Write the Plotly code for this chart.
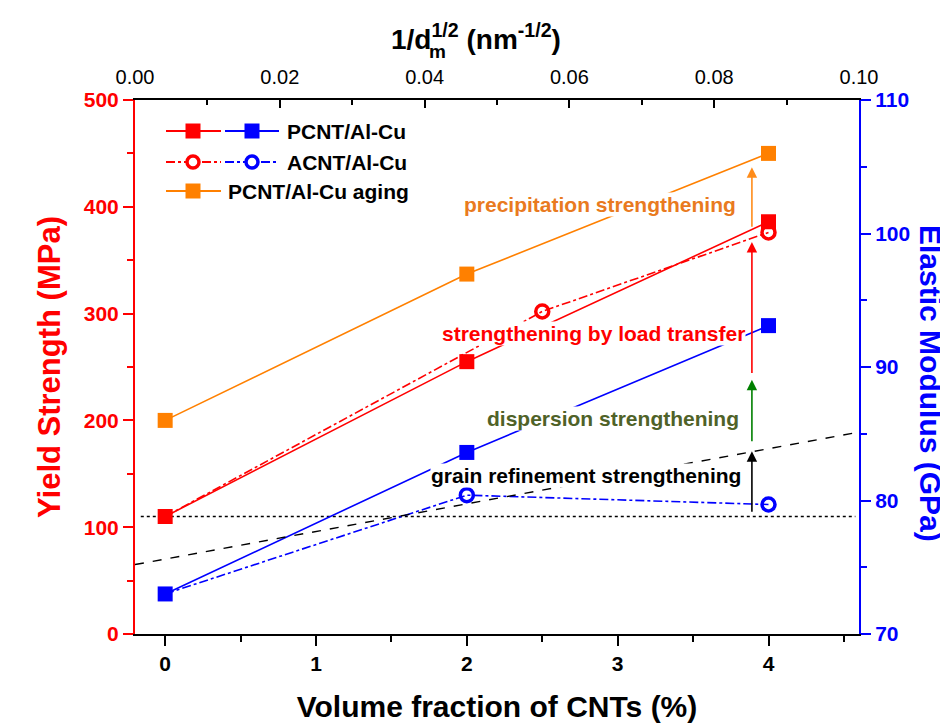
import plotly.graph_objects as go

# ---------------- data ----------------
vf_pcnt = [0, 2, 4]
ys_pcnt = [110, 255, 386]
em_pcnt = [73.0, 83.6, 93.1]

vf_acnt_ys = [0, 2.5, 4]
ys_acnt = [110, 302, 376]
vf_acnt_em = [0, 2, 4]
em_acnt = [73.0, 80.4, 79.7]

vf_aging = [0, 2, 4]
ys_aging = [200, 337, 450]

# Hall-Petch (grain refinement) line vs 1/d_m^1/2 (top axis)
hp_x = [0.0, 0.1]
hp_y = [65, 189]
base_ys = 110  # dotted reference line

# contribution arrows at x = 3.89
arrow_x = 3.89
arrow_from = [113, 179, 243, 380]
arrow_to = [171, 238, 367, 437]
arrow_colors = ["black", "#008000", "#FF0000", "#FF8C1A"]

labels = ["precipitation strengthening", "strengthening by load transfer",
          "dispersion strengthening", "grain refinement strengthening"]
label_x = [3.79, 2.84, 2.97, 2.79]
label_y = [402, 281, 202, 148]
label_anchor = ["right", "center", "center", "center"]
label_colors = ["#E97A20", "#FF0000", "#4F6228", "black"]

RED = "#FF0000"
BLUE = "#0000FF"
ORANGE = "#FF8000"
FONT = "Liberation Sans, Arial, sans-serif"

fig = go.Figure()

# ACNT (drawn first)
fig.add_trace(go.Scatter(x=vf_acnt_ys, y=ys_acnt, mode="lines", yaxis="y",
                         line=dict(color=RED, width=1.6, dash="dashdot"), showlegend=False))
fig.add_trace(go.Scatter(x=vf_acnt_em, y=em_acnt, mode="lines", yaxis="y2",
                         line=dict(color=BLUE, width=1.6, dash="dashdot"), showlegend=False))
# Hall-Petch dashed line on top axis
fig.add_trace(go.Scatter(x=hp_x, y=hp_y, mode="lines", xaxis="x2", yaxis="y",
                         line=dict(color="black", width=1.4, dash="dash"), showlegend=False))
# PCNT
fig.add_trace(go.Scatter(x=vf_aging, y=ys_aging, mode="lines+markers", yaxis="y",
                         line=dict(color=ORANGE, width=1.6),
                         marker=dict(symbol="square", size=15, color=ORANGE), showlegend=False))
fig.add_trace(go.Scatter(x=vf_pcnt, y=ys_pcnt, mode="lines+markers", yaxis="y",
                         line=dict(color=RED, width=1.6),
                         marker=dict(symbol="square", size=15, color=RED), showlegend=False))
fig.add_trace(go.Scatter(x=vf_pcnt, y=em_pcnt, mode="lines+markers", yaxis="y2",
                         line=dict(color=BLUE, width=1.6),
                         marker=dict(symbol="square", size=15, color=BLUE), showlegend=False))
# ACNT markers (no marker at 0, hidden under squares)
fig.add_trace(go.Scatter(x=vf_acnt_ys[1:], y=ys_acnt[1:], mode="markers", yaxis="y",
                         marker=dict(symbol="circle-open", size=13, color=RED, line=dict(width=3.5)),
                         showlegend=False))
fig.add_trace(go.Scatter(x=vf_acnt_em[1:], y=em_acnt[1:], mode="markers", yaxis="y2",
                         marker=dict(symbol="circle-open", size=13, color=BLUE, line=dict(width=3.5)),
                         showlegend=False))

shapes = [dict(type="line", xref="x domain", yref="y", x0=0.008, x1=0.995, y0=base_ys, y1=base_ys,
               line=dict(color="black", width=1.5, dash="dot"), layer="below")]

# ---- custom legend (pixel offsets from plot top-left) ----
def seg(x0, x1, yoff, color, dash):
    return dict(type="line", xref="paper", yref="paper", xanchor=0, yanchor=1,
                xsizemode="pixel", ysizemode="pixel", x0=x0, x1=x1, y0=yoff, y1=yoff,
                line=dict(color=color, width=1.8, dash=dash))

def sq(cx, yoff, color):
    return dict(type="rect", xref="paper", yref="paper", xanchor=0, yanchor=1,
                xsizemode="pixel", ysizemode="pixel", x0=cx - 7.5, x1=cx + 7.5,
                y0=yoff - 7.5, y1=yoff + 7.5, fillcolor=color, line=dict(width=0))

def circ(cx, yoff, color):
    return dict(type="circle", xref="paper", yref="paper", xanchor=0, yanchor=1,
                xsizemode="pixel", ysizemode="pixel", x0=cx - 6, x1=cx + 6,
                y0=yoff - 6, y1=yoff + 6, fillcolor="white", line=dict(color=color, width=3.5))

shapes += [seg(31, 86, -31, RED, "solid"), sq(58, -31, RED),
           seg(90, 144, -31, BLUE, "solid"), sq(117, -31, BLUE),
           seg(31, 86, -62, RED, "dashdot"), circ(58, -62, RED),
           seg(90, 144, -62, BLUE, "dashdot"), circ(117, -62, BLUE),
           seg(31, 86, -91, ORANGE, "solid"), sq(58, -91, ORANGE)]

annotations = []
for t, xs, ys in [("PCNT/Al-Cu", 150, -31), ("ACNT/Al-Cu", 150, -62), ("PCNT/Al-Cu aging", 91, -91)]:
    annotations.append(dict(text=t, xref="paper", yref="paper", x=0, y=1, xshift=xs, yshift=ys,
                            xanchor="left", yanchor="middle", showarrow=False,
                            font=dict(family=FONT, size=21, color="black", weight="bold")))

for t, x, y, a, c in zip(labels, label_x, label_y, label_anchor, label_colors):
    annotations.append(dict(text=t, x=x, y=y, xref="x", yref="y", xanchor=a, yanchor="middle",
                            showarrow=False, bgcolor="white", borderpad=0,
                            font=dict(family=FONT, size=21, color=c, weight="bold")))

for f, tt, c in zip(arrow_from, arrow_to, arrow_colors):
    annotations.append(dict(text="", x=arrow_x, y=tt, ax=arrow_x, ay=f, xref="x", yref="y",
                            axref="x", ayref="y", showarrow=True, arrowhead=2, arrowsize=1.3,
                            arrowwidth=1.6, arrowcolor=c))

# top axis title: 1/d_m^(1/2) (nm^-1/2), with the "m" stacked under the superscript
annotations.append(dict(text="1/d<sup>1/2</sup> (nm<sup>-1/2</sup>)", xref="paper", yref="paper",
                        x=0.471, y=1, yshift=63, xanchor="center", yanchor="middle", showarrow=False,
                        font=dict(family=FONT, size=28, color="black", weight="bold")))
annotations.append(dict(text="m", xref="paper", yref="paper",
                        x=0.4185, y=1, yshift=49, xanchor="center", yanchor="middle", showarrow=False,
                        font=dict(family=FONT, size=19, color="black", weight="bold")))

# right axis title (reads top-to-bottom)
annotations.append(dict(text="Elastic Modulus (GPa)", xref="paper", yref="paper", x=1, y=0.47,
                        xshift=72, textangle=90, showarrow=False, xanchor="center", yanchor="middle",
                        font=dict(family=FONT, size=30, color=BLUE, weight="bold")))

tickfont_b = dict(family=FONT, size=21, weight="bold")

fig.update_layout(
    width=948, height=727,
    margin=dict(l=127, r=97, t=92, b=101),
    paper_bgcolor="white", plot_bgcolor="white",
    showlegend=False,
    xaxis=dict(range=[-0.2, 4.6], tickvals=[0, 1, 2, 3, 4], ticks="outside", ticklen=10, tickwidth=2,
               tickcolor="black", showline=True, linecolor="black", linewidth=2, showgrid=False,
               zeroline=False, tickfont=dict(color="black", **tickfont_b),
               minor=dict(dtick=0.5, tick0=0, ticks="outside", ticklen=6, tickwidth=2, tickcolor="black"),
               title=dict(text="Volume fraction of CNTs (%)", standoff=22,
                          font=dict(family=FONT, size=30, color="black", weight="bold"))),
    xaxis2=dict(range=[0, 0.1], overlaying="x", side="top", anchor="y", dtick=0.02, tick0=0,
                tickformat=".2f", ticks="inside", ticklen=8, tickwidth=2, tickcolor="black",
                showline=True, linecolor="black", linewidth=2, showgrid=False, zeroline=False,
                ticklabelstandoff=6,
                tickfont=dict(family=FONT, size=20, color="black"),
                minor=dict(dtick=0.01, ticks="inside", ticklen=5, tickwidth=2, tickcolor="black")),
    yaxis=dict(range=[0, 500], dtick=100, ticks="outside", ticklen=10, tickwidth=2, tickcolor=RED,
               showline=True, linecolor=RED, linewidth=2, showgrid=False, zeroline=False,
               tickfont=dict(color=RED, **tickfont_b),
               minor=dict(dtick=50, ticks="outside", ticklen=6, tickwidth=2, tickcolor=RED),
               title=dict(text="Yield Strength (MPa)", standoff=14,
                          font=dict(family=FONT, size=31, color=RED, weight="bold"))),
    yaxis2=dict(range=[70, 110], dtick=10, overlaying="y", side="right", anchor="x",
                ticks="outside", ticklen=10, tickwidth=2, tickcolor=BLUE,
                showline=True, linecolor=BLUE, linewidth=2, showgrid=False, zeroline=False,
                tickfont=dict(color=BLUE, **tickfont_b),
                minor=dict(dtick=5, ticks="outside", ticklen=6, tickwidth=2, tickcolor=BLUE)),
    shapes=shapes,
    annotations=annotations,
)

fig.write_html("out.html")
